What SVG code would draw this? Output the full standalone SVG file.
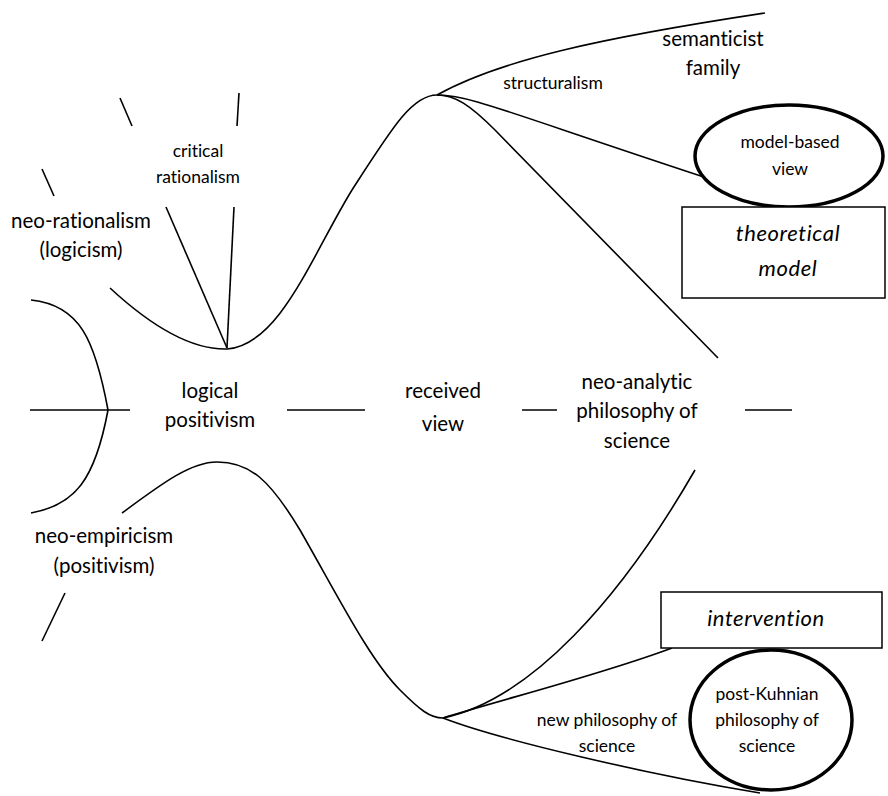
<svg xmlns="http://www.w3.org/2000/svg" width="888" height="796" viewBox="0 0 888 796">
<style>
.bg{fill:#fff}
.ln{fill:none;stroke:#000;stroke-width:1.6}
.thick{fill:#fff;stroke:#000;stroke-width:3.5}
.box{fill:#fff;stroke:#000;stroke-width:1.5}
text{font-family:Lato,"Open Sans",sans-serif;fill:#000;text-anchor:middle;font-variant-ligatures:none}
.big{font-size:20.5px}
.sm{font-size:17.5px}
.it{font-style:italic;font-size:22px;letter-spacing:0.6px}
</style>
<rect class="bg" width="888" height="796"/>
<g id="connectors">
<path class="ln" d="M120,98 L132,126"/>
<path class="ln" d="M239,93 L237,126"/>
<path class="ln" d="M42,169 L54,196"/>
<path class="ln" d="M166,207 L227,348"/>
<path class="ln" d="M234,207 L227,348"/>
<path class="ln" d="M110,288 C150,325 190,350 227,349 C280,345 312,255 352,190 C392,128 412,95 437,95"/>
<path class="ln" d="M31,300 C80,305 95,340 108,410 C95,480 75,505 31,513"/>
<path class="ln" d="M30,410 L130,410"/>
<path class="ln" d="M287,410 L365,410"/>
<path class="ln" d="M522,410 L557,410"/>
<path class="ln" d="M745,410 L792,410"/>
<path class="ln" d="M437,95 C500,60 600,38 765,13"/>
<path class="ln" d="M437,95 C470,95 500,110 713,180"/>
<path class="ln" d="M437,95 C455,95 470,105 495,130 L718,358"/>
<path class="ln" d="M122,513 C160,485 190,462 217,462 C250,462 270,480 300,530 C340,600 370,660 400,690 C420,710 430,718 443,718"/>
<path class="ln" d="M443,718 C530,700 620,600 695,470"/>
<path class="ln" d="M443,718 C500,700 600,675 672,648"/>
<path class="ln" d="M443,718 C500,740 650,775 760,793"/>
<path class="ln" d="M42,641 L65,593"/>
</g>
<g id="critical-rationalism"><text class="sm" x="198" y="157">critical</text><text class="sm" x="198" y="183">rationalism</text></g>
<g id="neo-rationalism"><text class="big" x="81" y="228">neo-rationalism</text><text class="big" x="81" y="257">(logicism)</text></g>
<g id="logical-positivism"><text class="big" x="210" y="398">logical</text><text class="big" x="210" y="427">positivism</text></g>
<g id="received-view"><text class="big" x="443" y="398">received</text><text class="big" x="443" y="431">view</text></g>
<g id="neo-analytic"><text class="big" x="637" y="389">neo-analytic</text><text class="big" x="637" y="418">philosophy of</text><text class="big" x="637" y="448">science</text></g>
<g id="neo-empiricism"><text class="big" x="104" y="543">neo-empiricism</text><text class="big" x="104" y="573">(positivism)</text></g>
<g id="structuralism"><text class="sm" x="553" y="89">structuralism</text></g>
<g id="semanticist-family"><text class="big" x="713" y="46">semanticist</text><text class="big" x="713" y="75">family</text></g>
<g id="model-based-view"><ellipse class="thick" cx="789" cy="156" rx="94" ry="51"/><text class="sm" x="790" y="148">model-based</text><text class="sm" x="790" y="175">view</text></g>
<g id="theoretical-model"><rect class="box" x="682" y="207" width="203" height="91"/><text class="it" x="788" y="241">theoretical</text><text class="it" x="788" y="276">model</text></g>
<g id="intervention"><rect class="box" x="661" y="592" width="221" height="56"/><text class="it" x="766" y="626">intervention</text></g>
<g id="post-kuhnian"><ellipse class="thick" cx="771" cy="720" rx="81" ry="70"/><text class="sm" x="767" y="700">post-Kuhnian</text><text class="sm" x="767" y="726">philosophy of</text><text class="sm" x="767" y="752">science</text></g>
<g id="new-philosophy"><text class="sm" x="607" y="726">new philosophy of</text><text class="sm" x="607" y="752">science</text></g>
</svg>
